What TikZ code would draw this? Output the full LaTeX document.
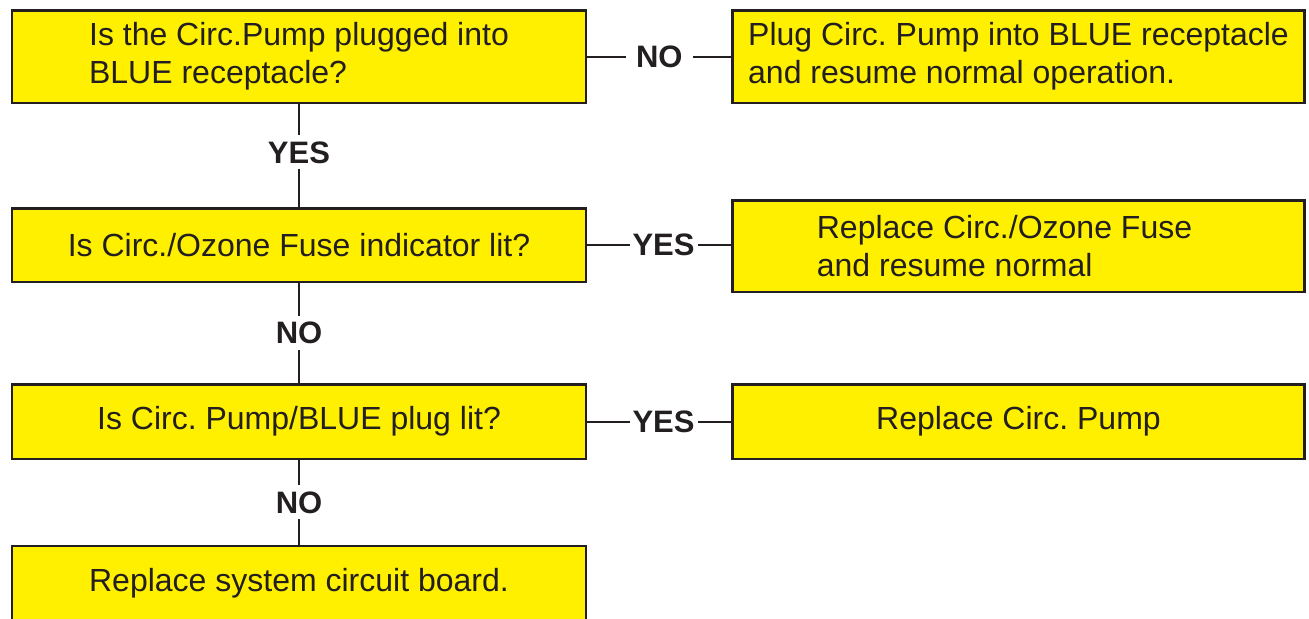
\documentclass[tikz,border=0pt]{standalone}
\usepackage{fontspec}
\setmainfont{Liberation Sans}
\usetikzlibrary{positioning}
\definecolor{boxyellow}{HTML}{FFF000}
\definecolor{inkgrey}{HTML}{231F20}
\frenchspacing

\begin{document}
\begin{tikzpicture}[x=0.5pt,y=-0.5pt,
  qbox/.style={rectangle,draw=inkgrey,line width=1.25pt,fill=boxyellow,text=inkgrey,
    minimum width=287pt,inner sep=0pt,align=left,font=\fontsize{16}{19}\selectfont},
  link/.style={draw=inkgrey,line width=1pt},
  ans/.style={fill=white,text=inkgrey,inner sep=3pt,font=\fontsize{15.5}{18}\bfseries\selectfont}]
\useasboundingbox (0,0) rectangle (1309,618);
% questions on the left
\node[qbox,minimum height=46.25pt] (q1) at (299,56.5) {Is the Circ.Pump plugged into\\BLUE receptacle?};
\node[qbox,minimum height=36.75pt] (q2) at (299,245) {Is Circ./Ozone Fuse indicator lit?};
\node[qbox,minimum height=37.25pt] (q3) at (299,421.5) {Is Circ. Pump/BLUE plug lit?};
\node[qbox,minimum height=37pt] (q4) at (299,583) {Replace system circuit board.};
% actions on the right
\node[qbox,minimum width=286pt,minimum height=46.25pt] (r1) at (1018.5,56.5) {Plug Circ. Pump into BLUE receptacle\\and resume normal operation.};
\node[qbox,minimum width=286pt,minimum height=45.75pt] (r2) at (1018.5,246) {Replace Circ./Ozone Fuse\hspace*{14pt}\\and resume normal};
\node[qbox,minimum width=286pt,minimum height=37.25pt] (r3) at (1018.5,421.5) {Replace Circ. Pump};
% connectors
\draw[link] (q1.east) -- node[ans,inner xsep=5pt] {NO} (q1.east -| r1.west);
\draw[link] (q2.east) -- node[ans,pos=0.53,inner xsep=1.5pt] {YES} (q2.east -| r2.west);
\draw[link] (q3.east) -- node[ans,pos=0.53,inner xsep=1.5pt] {YES} (q3.east -| r3.west);
\draw[link] (q1.south) -- node[ans,pos=0.47] {YES} (q2.north);
\draw[link] (q2.south) -- node[ans] {NO} (q3.north);
\draw[link] (q3.south) -- node[ans] {NO} (q4.north);
\end{tikzpicture}
\end{document}
